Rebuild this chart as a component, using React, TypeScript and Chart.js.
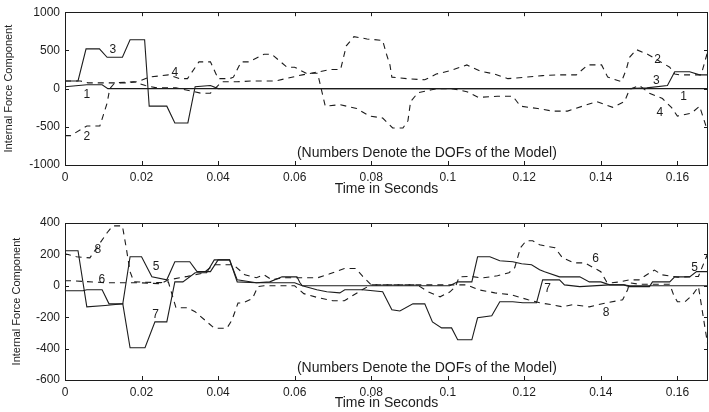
import React, { useEffect, useRef } from "react";
import { Chart, registerables } from "chart.js";
Chart.register(...registerables);

// ---------- axes ----------
const xTicks = [0, 0.02, 0.04, 0.06, 0.08, 0.1, 0.12, 0.14, 0.16];
const xMin = 0;
const xMax = 0.168;
const topYTicks = [-1000, -500, 0, 500, 1000];
const botYTicks = [-600, -400, -200, 0, 200, 400];
const yTitle = "Internal Force Component";
const xTitle = "Time in Seconds";
const noteText = "(Numbers Denote the DOFs of the Model)";

// ---------- top panel (DOFs 1-4) ----------
const s1T = [0, 0.0057, 0.0097, 0.0112, 0.168];
const s1V = [25, 50, 50, 0, 0];

const s3T = [0, 0.0034, 0.0055, 0.009, 0.011, 0.015, 0.017, 0.0208, 0.022, 0.0266, 0.0287, 0.0321, 0.034, 0.038, 0.04, 0.1475, 0.152, 0.1574, 0.1593, 0.1632, 0.1658, 0.168];
const s3V = [100, 100, 520, 520, 410, 410, 640, 640, -230, -230, -450, -450, 25, 40, 0, 0, 10, 40, 220, 220, 180, 180];

const s2T = [0, 0.0015, 0.0057, 0.0091, 0.011, 0.0117, 0.013, 0.018, 0.021, 0.024, 0.029, 0.0355, 0.038, 0.041, 0.045, 0.049, 0.055, 0.062, 0.0695, 0.072, 0.0735, 0.0755, 0.0789, 0.083, 0.084, 0.0849, 0.0854, 0.0893, 0.094, 0.097, 0.101, 0.105, 0.1084, 0.1123, 0.1157, 0.1206, 0.1248, 0.129, 0.1336, 0.1366, 0.1402, 0.1418, 0.1454, 0.1467, 0.1475, 0.1493, 0.1522, 0.158, 0.1593, 0.1606, 0.1662, 0.168];
const s2V = [-615, -615, -490, -490, -190, 0, 75, 90, 40, 10, 10, -60, -60, 90, 90, 100, 100, 180, 250, 250, 560, 680, 650, 630, 450, 310, 150, 130, 115, 190, 240, 310, 230, 190, 130, 150, 170, 180, 180, 310, 310, 150, 90, 260, 410, 510, 450, 280, 190, 180, 180, 500];

const s4T = [0, 0.004, 0.006, 0.016, 0.019, 0.022, 0.027, 0.03, 0.032, 0.035, 0.038, 0.04, 0.043, 0.044, 0.046, 0.048, 0.052, 0.054, 0.058, 0.06, 0.063, 0.066, 0.068, 0.0718, 0.0762, 0.0796, 0.083, 0.0856, 0.0883, 0.0896, 0.0903, 0.0922, 0.0958, 0.0974, 0.101, 0.105, 0.108, 0.113, 0.117, 0.119, 0.1235, 0.1274, 0.1313, 0.1352, 0.139, 0.1431, 0.1462, 0.1475, 0.1501, 0.1527, 0.1561, 0.1585, 0.16, 0.1637, 0.1658, 0.1676, 0.168];
const s4V = [100, 100, 75, 75, 90, 150, 180, 130, 130, 350, 350, 130, 130, 150, 350, 350, 450, 450, 280, 280, 200, 200, -230, -210, -260, -360, -385, -515, -515, -420, -170, -55, -15, 0, 0, -40, -115, -100, -100, -230, -260, -295, -295, -230, -170, -245, -170, -10, 40, -60, -130, -250, -360, -320, -230, -510, -510];

const topLabelText = ["3", "4", "1", "2", "2", "3", "1", "4"];
const topLabelT = [0.0125, 0.0287, 0.0057, 0.0057, 0.1548, 0.1545, 0.1616, 0.1554];
const topLabelV = [504, 209, -81, -628, 376, 103, -103, -317];

// ---------- bottom panel (DOFs 5-8) ----------
const s5T = [0, 0.0034, 0.0057, 0.0105, 0.0151, 0.017, 0.02, 0.0227, 0.0266, 0.0287, 0.0326, 0.0345, 0.038, 0.04, 0.043, 0.045, 0.05, 0.0535, 0.0567, 0.0606, 0.0614, 0.062, 0.1005, 0.1026, 0.1063, 0.1078, 0.111, 0.1136, 0.117, 0.1193, 0.1219, 0.124, 0.1253, 0.1292, 0.1345, 0.137, 0.14, 0.1423, 0.146, 0.1475, 0.1527, 0.1535, 0.158, 0.1593, 0.1632, 0.165, 0.168];
const s5V = [223, 223, -134, -125, -115, 185, 185, 57, 38, 153, 153, 90, 90, 165, 165, 25, 19, 25, 57, 57, 19, 0, 0, 25, 25, 185, 185, 160, 153, 140, 134, 102, 90, 57, 57, 25, 25, 6, 6, -5, -5, 25, 25, 57, 57, 90, 90];

const s7T = [0, 0.0047, 0.0057, 0.0097, 0.0115, 0.0151, 0.017, 0.0209, 0.0235, 0.0266, 0.0287, 0.0308, 0.034, 0.037, 0.039, 0.043, 0.045, 0.05, 0.054, 0.06, 0.062, 0.0658, 0.0684, 0.0718, 0.0731, 0.0778, 0.083, 0.0854, 0.0875, 0.0909, 0.094, 0.096, 0.0984, 0.101, 0.1026, 0.1063, 0.1078, 0.1115, 0.1136, 0.117, 0.1196, 0.1232, 0.1248, 0.1292, 0.1305, 0.1345, 0.1423, 0.146, 0.1475, 0.168];
const s7V = [-32, -32, -25, -25, -115, -115, -395, -395, -230, -230, 25, 25, 83, 83, 165, 165, 38, 19, 19, 19, 0, -25, -38, -45, -25, -25, -38, -153, -160, -115, -115, -230, -268, -268, -344, -344, -204, -191, -102, -102, -108, -108, 38, 38, 6, -5, 6, 6, 0, 0];

const s6T = [0, 0.002, 0.011, 0.016, 0.02, 0.025, 0.027, 0.032, 0.036, 0.039, 0.044, 0.047, 0.05, 0.052, 0.054, 0.057, 0.066, 0.069, 0.073, 0.076, 0.0778, 0.08, 0.092, 0.095, 0.098, 0.1005, 0.102, 0.103, 0.106, 0.109, 0.113, 0.116, 0.1175, 0.119, 0.1205, 0.1222, 0.124, 0.128, 0.13, 0.133, 0.1358, 0.14, 0.1415, 0.1425, 0.145, 0.1475, 0.15, 0.152, 0.154, 0.156, 0.16, 0.1655, 0.168];
const s6V = [32, 32, 19, 19, 19, 13, 38, 60, 80, 134, 134, 70, 51, 70, 38, 51, 51, 75, 110, 110, 60, 6, 6, -40, -70, -40, -6, 57, 60, 50, 64, 83, 115, 242, 287, 287, 261, 242, 178, 146, 146, 90, 25, 19, 25, 38, 38, 70, 100, 70, 55, 60, 210];

const s8T = [0, 0.003, 0.0065, 0.011, 0.0125, 0.015, 0.016, 0.017, 0.018, 0.025, 0.027, 0.029, 0.032, 0.034, 0.039, 0.0423, 0.0436, 0.0444, 0.0452, 0.0465, 0.049, 0.0504, 0.052, 0.06, 0.0624, 0.066, 0.07, 0.073, 0.078, 0.08, 0.105, 0.108, 0.1123, 0.1166, 0.121, 0.124, 0.127, 0.13, 0.1326, 0.137, 0.1415, 0.1457, 0.147, 0.1475, 0.15, 0.158, 0.159, 0.16, 0.162, 0.164, 0.1655, 0.168];
const s8V = [204, 185, 178, 338, 382, 382, 242, 90, 25, 20, 25, -140, -140, -165, -270, -270, -220, -165, -110, -110, -80, -5, 0, 0, -50, -75, -95, -95, -20, 6, 6, -25, -45, -57, -89, -108, -120, -134, -120, -134, -108, -89, -25, 19, 10, 10, -57, -102, -102, -57, -5, -388];

const botLabelText = ["8", "6", "5", "7", "6", "8", "5", "7"];
const botLabelT = [0.0086, 0.0096, 0.0238, 0.0237, 0.1386, 0.1414, 0.1645, 0.1261];
const botLabelV = [229, 38, 123, -185, 170, -174, 117, -19];

// ---------- helpers ----------
const INK = "#1c1c1c";
const FONT = "'Liberation Sans', Arial, Helvetica, sans-serif";

function pts(t: number[], v: number[]) {
  return t.map((x, i) => ({ x, y: v[i] }));
}

function line(t: number[], v: number[], dashed: boolean) {
  return {
    data: pts(t, v),
    borderColor: INK,
    borderWidth: 1.1,
    borderDash: dashed ? [6, 5] : [],
    pointRadius: 0,
    fill: false,
    tension: 0,
  };
}

function overlay(labelText: string[], labelT: number[], labelV: number[], noteT: number, noteV: number) {
  return {
    id: "overlay",
    afterDatasetsDraw(chart: any) {
      const { ctx, chartArea: a, scales } = chart;
      const xs = scales.x;
      const ys = scales.y;
      ctx.save();
      ctx.strokeStyle = INK;
      ctx.lineWidth = 1;
      ctx.setLineDash([]);
      ctx.strokeRect(Math.round(a.left) + 0.5, Math.round(a.top) + 0.5, Math.round(a.right - a.left) - 1, Math.round(a.bottom - a.top));
      ctx.beginPath();
      const tl = 4;
      xs.ticks.forEach((tk: any) => {
        const px = Math.round(xs.getPixelForValue(tk.value)) + 0.5;
        ctx.moveTo(px, a.bottom);
        ctx.lineTo(px, a.bottom - tl);
        ctx.moveTo(px, a.top);
        ctx.lineTo(px, a.top + tl);
      });
      ys.ticks.forEach((tk: any) => {
        const py = Math.round(ys.getPixelForValue(tk.value)) + 0.5;
        ctx.moveTo(a.left, py);
        ctx.lineTo(a.left + tl, py);
        ctx.moveTo(a.right, py);
        ctx.lineTo(a.right - tl, py);
      });
      ctx.stroke();
      ctx.fillStyle = INK;
      ctx.font = `12px ${FONT}`;
      ctx.textAlign = "center";
      ctx.textBaseline = "middle";
      labelText.forEach((s, i) => {
        ctx.fillText(s, xs.getPixelForValue(labelT[i]), ys.getPixelForValue(labelV[i]));
      });
      ctx.font = `14px ${FONT}`;
      ctx.textAlign = "left";
      ctx.fillText(noteText, xs.getPixelForValue(noteT), ys.getPixelForValue(noteV));
      ctx.restore();
    },
  };
}

type PanelProps = {
  top: number;
  padTop: number;
  xAxisH: number;
  yTitlePad: number;
  xTitlePad: number;
  yTicks: number[];
  datasets: any[];
  plugin: any;
};

function Panel({ top, padTop, xAxisH, yTitlePad, xTitlePad, yTicks, datasets, plugin }: PanelProps) {
  const ref = useRef<HTMLCanvasElement | null>(null);
  useEffect(() => {
    if (!ref.current) return;
    const chart = new Chart(ref.current, {
      type: "line",
      data: { datasets },
      plugins: [plugin],
      options: {
        animation: false,
        responsive: false,
        devicePixelRatio: 1,
        layout: { padding: { top: padTop, right: 1, bottom: 0, left: 0 } },
        plugins: { legend: { display: false }, tooltip: { enabled: false } },
        scales: {
          x: {
            type: "linear",
            min: xMin,
            max: xMax,
            afterBuildTicks: (s: any) => {
              s.ticks = xTicks.map((v) => ({ value: v }));
            },
            afterFit: (s: any) => {
              s.height = xAxisH;
            },
            grid: { display: false, drawTicks: false },
            border: { display: false },
            ticks: {
              color: INK,
              padding: 5,
              maxRotation: 0,
              autoSkip: false,
              font: { family: FONT, size: 12 },
              callback: (v: any) => String(Number(v)),
            },
            title: {
              display: true,
              text: xTitle,
              color: INK,
              font: { family: FONT, size: 14 },
              padding: { top: 0, bottom: xTitlePad },
            },
          },
          y: {
            type: "linear",
            min: yTicks[0],
            max: yTicks[yTicks.length - 1],
            afterBuildTicks: (s: any) => {
              s.ticks = yTicks.map((v) => ({ value: v }));
            },
            afterFit: (s: any) => {
              s.width = 65;
            },
            grid: { display: false, drawTicks: false },
            border: { display: false },
            ticks: {
              color: INK,
              padding: 5,
              autoSkip: false,
              font: { family: FONT, size: 12 },
              callback: (v: any) => String(v),
            },
            title: {
              display: true,
              text: yTitle,
              color: INK,
              font: { family: FONT, size: 11 },
              padding: { top: yTitlePad, bottom: 0 },
            },
          },
        },
      },
    } as any);
    return () => chart.destroy();
  }, []);
  return (
    <canvas
      ref={ref}
      width={709}
      height={206}
      style={{ position: "absolute", left: 0, top, width: 709, height: 206 }}
    />
  );
}

export default function App() {
  const topSets = [
    line(s1T, s1V, false),
    line(s3T, s3V, false),
    line(s2T, s2V, true),
    line(s4T, s4V, true),
  ];
  const botSets = [
    line(s5T, s5V, false),
    line(s7T, s7V, false),
    line(s6T, s6V, true),
    line(s8T, s8V, true),
  ];
  return (
    <div style={{ position: "absolute", left: 0, top: 0, width: 709, height: 412, background: "#fff" }}>
      <Panel
        top={0}
        padTop={9}
        xAxisH={41}
        yTitlePad={2}
        xTitlePad={8}
        yTicks={topYTicks}
        datasets={topSets}
        plugin={overlay(topLabelText, topLabelT, topLabelV, 0.0606, -850)}
      />
      <Panel
        top={206}
        padTop={17}
        xAxisH={32}
        yTitlePad={10}
        xTitlePad={0}
        yTicks={botYTicks}
        datasets={botSets}
        plugin={overlay(botLabelText, botLabelT, botLabelV, 0.0606, -525)}
      />
    </div>
  );
}
